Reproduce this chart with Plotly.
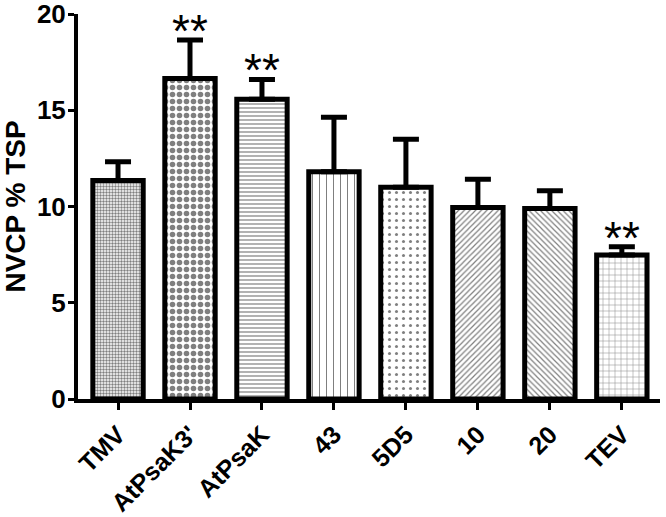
import plotly.graph_objects as go

categories = ["TMV", "AtPsaK3'", "AtPsaK", "43", "5D5", "10", "20", "TEV"]
means = [11.35, 16.65, 15.57, 11.8, 11.0, 9.95, 9.9, 7.48]
errors = [0.98, 2.0, 1.03, 2.83, 2.5, 1.46, 0.92, 0.43]
significant = ["", "**", "**", "", "", "", "", "**"]

shapes = [".", ".", "-", "|", ".", "/", "\\", "+"]
sizes = [3, 7, 4, 7, 7, 4, 4, 6]
solid = [0.5, 0.5, 0.3, 0.15, 0.15, 0.3, 0.3, 0.15]

font_family = "Arial, Liberation Sans, sans-serif"

fig = go.Figure()
fig.add_trace(go.Bar(
    x=categories,
    y=means,
    width=0.7,
    marker=dict(
        color="white",
        line=dict(color="black", width=5),
        pattern=dict(shape=shapes, size=sizes, solidity=solid,
                     fgcolor="black", bgcolor="white", fillmode="overlay"),
    ),
    error_y=dict(type="data", symmetric=False, array=errors,
                 arrayminus=[0] * len(errors), color="black",
                 thickness=5, width=13),
    showlegend=False,
))

for c, m, e, s in zip(categories, means, errors, significant):
    if s:
        fig.add_annotation(x=c, y=m + e, text=s, showarrow=False,
                           yanchor="bottom", yshift=-19,
                           font=dict(family=font_family, size=46, color="black"))

fig.update_layout(
    width=666, height=517,
    margin=dict(l=78, r=6, t=14, b=118),
    plot_bgcolor="white", paper_bgcolor="white",
    font=dict(family=font_family, color="black"),
    bargap=0.3,
)
fig.update_xaxes(
    range=[-0.556, 7.53], automargin=False, ticklabeloverflow="allow",
    showline=True, linecolor="black", linewidth=4,
    ticks="outside", ticklen=7, tickwidth=3, tickcolor="black",
    tickangle=-45,
    tickfont=dict(family=font_family, size=25, color="black", weight="bold"),
    showgrid=False, zeroline=False,
)
fig.update_yaxes(
    range=[0, 20], tickvals=[0, 5, 10, 15, 20], automargin=False,
    ticklabeloverflow="allow", ticklabelstandoff=-3,
    showline=True, linecolor="black", linewidth=4,
    ticks="outside", ticklen=6, tickwidth=3, tickcolor="black",
    tickfont=dict(family=font_family, size=26, color="black", weight="bold"),
    title=dict(text="NVCP % TSP", standoff=16,
               font=dict(family=font_family, size=28, color="black", weight="bold")),
    showgrid=False, zeroline=False,
)

fig.write_html("out.html", config={"displayModeBar": False},
               post_script="document.body.style.margin='0';")
